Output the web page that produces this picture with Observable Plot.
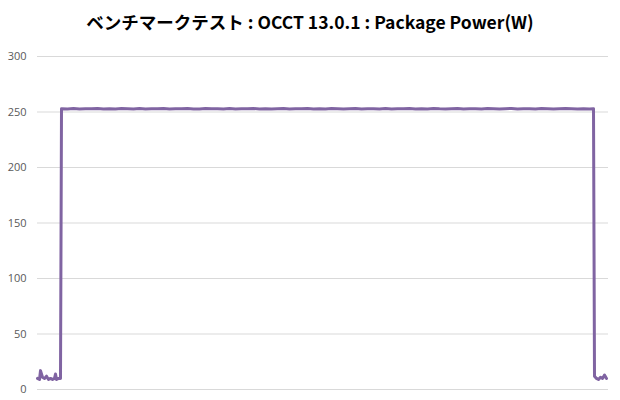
<!DOCTYPE html>
<html>
<head>
<meta charset="utf-8">
<script src="https://cdn.jsdelivr.net/npm/d3@7"></script>
<script src="https://cdn.jsdelivr.net/npm/@observablehq/plot@0.6"></script>
<style>
  body { margin: 0; background: #fff; }
  #title { height: 40px; line-height: 44px; text-align: center; font-family: "Noto Sans CJK JP", sans-serif; font-weight: bold; font-size: 17.5px; color: #000; }
</style>
</head>
<body>
<div id="title">ベンチマークテスト : OCCT 13.0.1 : Package Power(W)</div>
<div id="chart"></div>
<script>
const title = "ベンチマークテスト : OCCT 13.0.1 : Package Power(W)";
const yTicks = [0, 50, 100, 150, 200, 250, 300];

// elapsed sample position (time units) and package power (W)
const time = [
  0, 2, 3, 5, 7, 9, 11, 13, 15, 17, 18, 19, 21, 23,
  24, 30, 36, 42, 48, 54, 60, 66, 72, 78, 84, 90, 96, 102, 108, 114, 120,
  126, 132, 138, 144, 150, 156, 162, 168, 174, 180, 186, 192, 198, 204, 210,
  216, 222, 228, 234, 240, 246, 252, 258, 264, 270, 276, 282, 288, 294, 300,
  306, 312, 318, 324, 330, 336, 342, 348, 354, 360, 366, 372, 378, 384, 390,
  396, 402, 408, 414, 420, 426, 432, 438, 444, 450, 456, 462, 468, 474, 480,
  486, 492, 498, 504, 510, 516, 522, 528, 534, 540, 546, 552, 556,
  557, 559, 561, 563, 565, 567, 569
];
const power = [
  10, 9, 17, 11, 10, 12, 9, 10, 9, 10, 14, 9, 10, 10,
  253, 252.8, 253.1, 252.7, 253.0, 252.9, 253.2, 252.6, 253.0, 252.8, 253.1, 252.9, 252.7, 253.2, 252.8, 253.0, 252.9,
  253.1, 252.7, 253.0, 252.9, 253.2, 252.8, 252.6, 253.1, 252.9, 253.0, 252.7, 253.1, 252.8, 253.0, 252.9,
  253.2, 252.7, 253.0, 252.8, 252.9, 253.1, 252.6, 253.0, 252.9, 253.2, 252.8, 253.0, 252.7, 253.1, 252.9,
  252.8, 253.0, 253.2, 252.7, 252.9, 253.0, 252.8, 253.1, 252.6, 253.0, 252.9, 253.1, 252.8, 253.0, 252.7,
  253.2, 252.9, 252.8, 253.0, 253.1, 252.7, 252.9, 253.0, 252.8, 253.2, 252.9, 252.7, 253.0, 253.1, 252.8,
  252.9, 253.0, 252.7, 253.1, 252.9, 252.8, 253.0, 253.2, 252.9, 252.7, 253.0, 252.8, 253.0,
  12, 10, 9, 11, 10, 13, 10
];

const data = time.map((t, i) => ({t, p: power[i]}));

const chart = Plot.plot({
  width: 620,
  height: 360,
  marginLeft: 37,
  marginRight: 12,
  marginTop: 16,
  marginBottom: 11,
  style: { fontFamily: "'Open Sans', 'DejaVu Sans', sans-serif", fontSize: "11px", color: "#595959", background: "#fff" },
  x: { domain: [0, 571], axis: null },
  y: { domain: [0, 300], ticks: yTicks, tickSize: 0, tickPadding: 11, label: null, tickFormat: d => String(d) },
  marks: [
    Plot.ruleY(yTicks, { stroke: "#d9d9d9", strokeWidth: 1 }),
    Plot.line(data, { x: "t", y: "p", stroke: "#8064a2", strokeWidth: 3, strokeLinejoin: "round" })
  ]
});
document.getElementById("chart").appendChild(chart);
</script>
</body>
</html>
